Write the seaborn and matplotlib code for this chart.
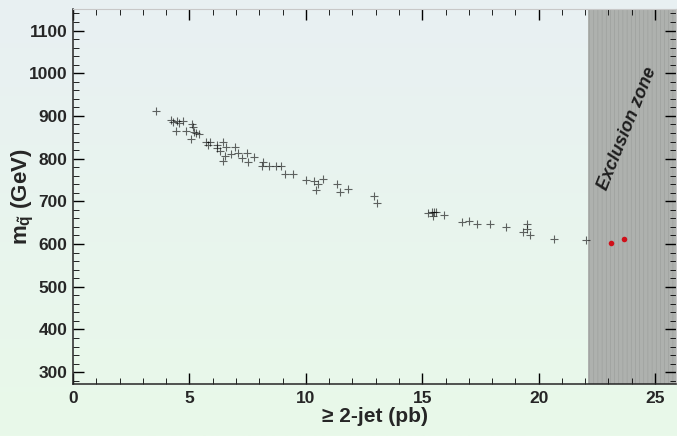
import numpy as np
import matplotlib
matplotlib.use("Agg")
import matplotlib.pyplot as plt
import seaborn as sns
from matplotlib.colors import LinearSegmentedColormap
from matplotlib.ticker import MultipleLocator

# cross section (pb) vs squark mass (GeV)
xsec = [3.57, 4.19, 4.30, 4.45, 4.55, 4.70, 4.42, 4.85, 5.09, 5.15, 5.20, 5.30,
        5.40, 5.05, 5.71, 5.88, 5.81, 6.19, 6.17, 6.42, 6.31, 6.57, 6.95, 6.52,
        6.42, 6.77, 7.09, 7.45, 7.25, 7.52, 7.77, 8.14, 8.10, 8.40, 8.70, 8.95,
        9.10, 9.44, 10.00, 10.34, 10.53, 10.74, 10.43, 11.32, 11.46, 11.82, 12.92,
        13.06, 15.25, 15.40, 15.50, 15.60, 15.47, 15.92, 16.72, 17.00, 17.33,
        17.93, 18.60, 19.33, 19.50, 19.50, 19.64, 20.64, 22.05]
mass = [912, 891, 886, 889, 884, 887, 865, 864, 881, 873, 862, 860,
        858, 846, 838, 840, 832, 832, 825, 840, 817, 828, 828, 805,
        795, 810, 813, 813, 801, 793, 804, 793, 783, 783, 783, 783,
        764, 764, 750, 748, 741, 752, 727, 740, 721, 729, 713,
        695, 672, 676, 674, 676, 666, 668, 651, 654, 646,
        646, 640, 629, 646, 635, 621, 611, 609]

# measured points inside the excluded region
xsec_red = [23.12, 23.67]
mass_red = [602, 611]

excl_lo, excl_hi = 22.1, 26.0

sns.set_style("ticks")
plt.rcParams["font.family"] = ["Liberation Sans", "DejaVu Sans"]
plt.rcParams["font.weight"] = "bold"
plt.rcParams["mathtext.fontset"] = "custom"
plt.rcParams["mathtext.rm"] = "Liberation Sans:bold"
plt.rcParams["mathtext.bf"] = "Liberation Sans:bold"
plt.rcParams["hatch.color"] = "#9a9d9a"
plt.rcParams["hatch.linewidth"] = 0.4

fig = plt.figure(figsize=(6.77, 4.36), dpi=100)

# gradient background (bluish top -> greenish bottom)
bg = fig.add_axes([0, 0, 1, 1], zorder=-10)
cmap = LinearSegmentedColormap.from_list("bg", ["#e8f0f3", "#e9f9e9"])
bg.imshow(np.linspace(0, 1, 256).reshape(-1, 1), aspect="auto", cmap=cmap,
          extent=[0, 1, 0, 1])
bg.axis("off")

ax = fig.add_axes([0.108, 0.119, 0.8905, 0.860])
ax.patch.set_alpha(0)

ax.axvspan(excl_lo, excl_hi, facecolor="#aeb1ae", edgecolor="#9a9d9a",
           hatch="||||", linewidth=0, zorder=0)
ax.text(23.8, 870, "Exclusion zone", rotation=68, ha="center", va="center",
        fontsize=13, style="italic", color="#1e1e1e")

sns.scatterplot(x=xsec, y=mass, marker="+", color="black", s=28,
                linewidth=0.8, alpha=0.6, ax=ax, zorder=3)
sns.scatterplot(x=xsec_red, y=mass_red, marker="o", color="#d0101a", s=16,
                linewidth=0, ax=ax, zorder=4)

ax.set_xlim(0, 25.9)
ax.set_ylim(272, 1150)
ax.xaxis.set_major_locator(MultipleLocator(5))
ax.xaxis.set_minor_locator(MultipleLocator(1))
ax.yaxis.set_major_locator(MultipleLocator(100))
ax.yaxis.set_minor_locator(MultipleLocator(20))
ax.set_yticks(range(300, 1101, 100))
ax.tick_params(which="both", direction="in", top=True, right=True,
               labelsize=12.5, color="black")
ax.tick_params(which="major", length=8, width=1)
ax.tick_params(which="minor", length=4, width=0.6)
ax.tick_params(axis="y", pad=4)
ax.tick_params(axis="x", pad=5)
for lbl in ax.get_xticklabels() + ax.get_yticklabels():
    lbl.set_fontweight("bold")

for s in ["top", "right"]:
    ax.spines[s].set_color("#c8c8c8")
    ax.spines[s].set_linewidth(0.8)
for s in ["left", "bottom"]:
    ax.spines[s].set_linewidth(1.1)

ax.set_xlabel("≥ 2-jet (pb)", fontsize=15, fontweight="bold", labelpad=1)
ax.set_ylabel(r"$\mathrm{m}_{\tilde{\mathrm{q}}}$ (GeV)", fontsize=16,
              fontweight="bold")
ax.yaxis.set_label_coords(-0.062, 0.5)

fig.savefig("out.png", dpi=100)
